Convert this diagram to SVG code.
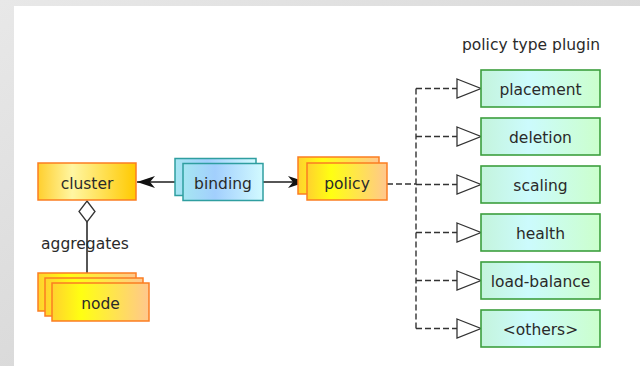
<svg xmlns="http://www.w3.org/2000/svg" width="640" height="366" viewBox="0 0 640 366">
  <defs>
    <linearGradient id="bgFrame" x1="0" y1="0" x2="1" y2="1">
      <stop offset="0" stop-color="#e8e8e8"/>
      <stop offset="1" stop-color="#cdcdcd"/>
    </linearGradient>
    <linearGradient id="gradCluster" x1="0" y1="0" x2="1" y2="0">
      <stop offset="0" stop-color="#ffcf2e"/>
      <stop offset="0.35" stop-color="#fff6a2"/>
      <stop offset="1" stop-color="#ffc900"/>
    </linearGradient>
    <linearGradient id="gradWarm" x1="0" y1="0" x2="1" y2="0">
      <stop offset="0" stop-color="#ffd12e"/>
      <stop offset="0.3" stop-color="#ffff12"/>
      <stop offset="1" stop-color="#ffc78e"/>
    </linearGradient>
    <linearGradient id="gradBlue" x1="0" y1="0" x2="1" y2="0">
      <stop offset="0" stop-color="#a6e6f2"/>
      <stop offset="0.4" stop-color="#a2cffd"/>
      <stop offset="1" stop-color="#d2faff"/>
    </linearGradient>
    <linearGradient id="gradGreen" x1="0" y1="0" x2="1" y2="0">
      <stop offset="0" stop-color="#c4f4dc"/>
      <stop offset="0.4" stop-color="#ccfbfd"/>
      <stop offset="1" stop-color="#cbffcc"/>
    </linearGradient>
    <marker id="stealth" viewBox="0 0 18 12" refX="18" refY="6" markerWidth="18" markerHeight="12" markerUnits="userSpaceOnUse" orient="auto">
      <path d="M0,0 L18,6 L0,12 L5,6 Z" fill="#111"/>
    </marker>
  </defs>
  <style>
    .txt { font-family: "DejaVu Sans", "Liberation Sans", sans-serif; font-size: 15.5px; fill: #2a2a2a; text-anchor: middle; }
    .warm { fill: url(#gradWarm); stroke: #fb7d22; stroke-width: 1.5; }
    .clus { fill: url(#gradCluster); stroke: #fb7d22; stroke-width: 1.5; }
    .blue { fill: url(#gradBlue); stroke: #2f9ea0; stroke-width: 1.5; }
    .green { fill: url(#gradGreen); stroke: #3c9f3e; stroke-width: 1.6; }
    .solid { fill: none; stroke: #1e1e1e; stroke-width: 1.5; }
    .dash { fill: none; stroke: #333; stroke-width: 1.4; stroke-dasharray: 6 3; }
    .hollow { fill: #fff; stroke: #333; stroke-width: 1.3; }
  </style>

  <!-- frame -->
  <rect x="0" y="0" width="640" height="366" fill="url(#bgFrame)"/>
  <rect x="14" y="6" width="626" height="360" fill="#ffffff"/>

  <text class="txt" x="531" y="50">policy type plugin</text>

  <!-- connectors -->
  <g id="connectors">
    <line class="solid" x1="175" y1="182" x2="137" y2="182" marker-end="url(#stealth)"/>
    <line class="solid" x1="263" y1="182" x2="306" y2="182" marker-end="url(#stealth)"/>
    <line class="solid" x1="87" y1="222" x2="87" y2="273"/>
    <polygon class="hollow" points="87,201 95,211.5 87,222 79,211.5"/>
    <path class="dash" d="M387,184 H416 M416,88.5 V328.5"/>
    <path class="dash" d="M416,88.5 H457 M416,136.5 H457 M416,184.5 H457 M416,232.5 H457 M416,280.5 H457 M416,328.5 H457"/>
    <polygon class="hollow" points="457,79 481,88.5 457,98"/>
    <polygon class="hollow" points="457,127 481,136.5 457,146"/>
    <polygon class="hollow" points="457,175 481,184.5 457,194"/>
    <polygon class="hollow" points="457,223 481,232.5 457,242"/>
    <polygon class="hollow" points="457,271 481,280.5 457,290"/>
    <polygon class="hollow" points="457,319 481,328.5 457,338"/>
  </g>

  <text class="txt" x="85" y="249">aggregates</text>

  <g id="cluster">
    <rect class="clus" x="38" y="163" width="98" height="37"/>
    <text class="txt" x="87" y="189">cluster</text>
  </g>

  <g id="binding">
    <rect class="blue" x="175" y="158.5" width="81" height="37"/>
    <rect class="blue" x="183" y="163.5" width="80" height="37"/>
    <text class="txt" x="223" y="189">binding</text>
  </g>

  <g id="policy">
    <rect class="warm" x="298" y="157" width="81" height="37"/>
    <rect class="warm" x="307" y="163" width="80" height="37"/>
    <text class="txt" x="347" y="189">policy</text>
  </g>

  <g id="node">
    <rect class="warm" x="38" y="273" width="98" height="38"/>
    <rect class="warm" x="45" y="278" width="98" height="38"/>
    <rect class="warm" x="52" y="283" width="97" height="38"/>
    <text class="txt" x="100.5" y="309">node</text>
  </g>

  <g id="placement">
    <rect class="green" x="481" y="70" width="119" height="37"/>
    <text class="txt" x="540.5" y="95">placement</text>
  </g>
  <g id="deletion">
    <rect class="green" x="481" y="118" width="119" height="37"/>
    <text class="txt" x="540.5" y="143">deletion</text>
  </g>
  <g id="scaling">
    <rect class="green" x="481" y="166" width="119" height="37"/>
    <text class="txt" x="540.5" y="191">scaling</text>
  </g>
  <g id="health">
    <rect class="green" x="481" y="214" width="119" height="37"/>
    <text class="txt" x="540.5" y="239">health</text>
  </g>
  <g id="load-balance">
    <rect class="green" x="481" y="262" width="119" height="37"/>
    <text class="txt" x="540.5" y="287">load-balance</text>
  </g>
  <g id="others">
    <rect class="green" x="481" y="310" width="119" height="37"/>
    <text class="txt" x="540.5" y="335">&lt;others&gt;</text>
  </g>
</svg>
